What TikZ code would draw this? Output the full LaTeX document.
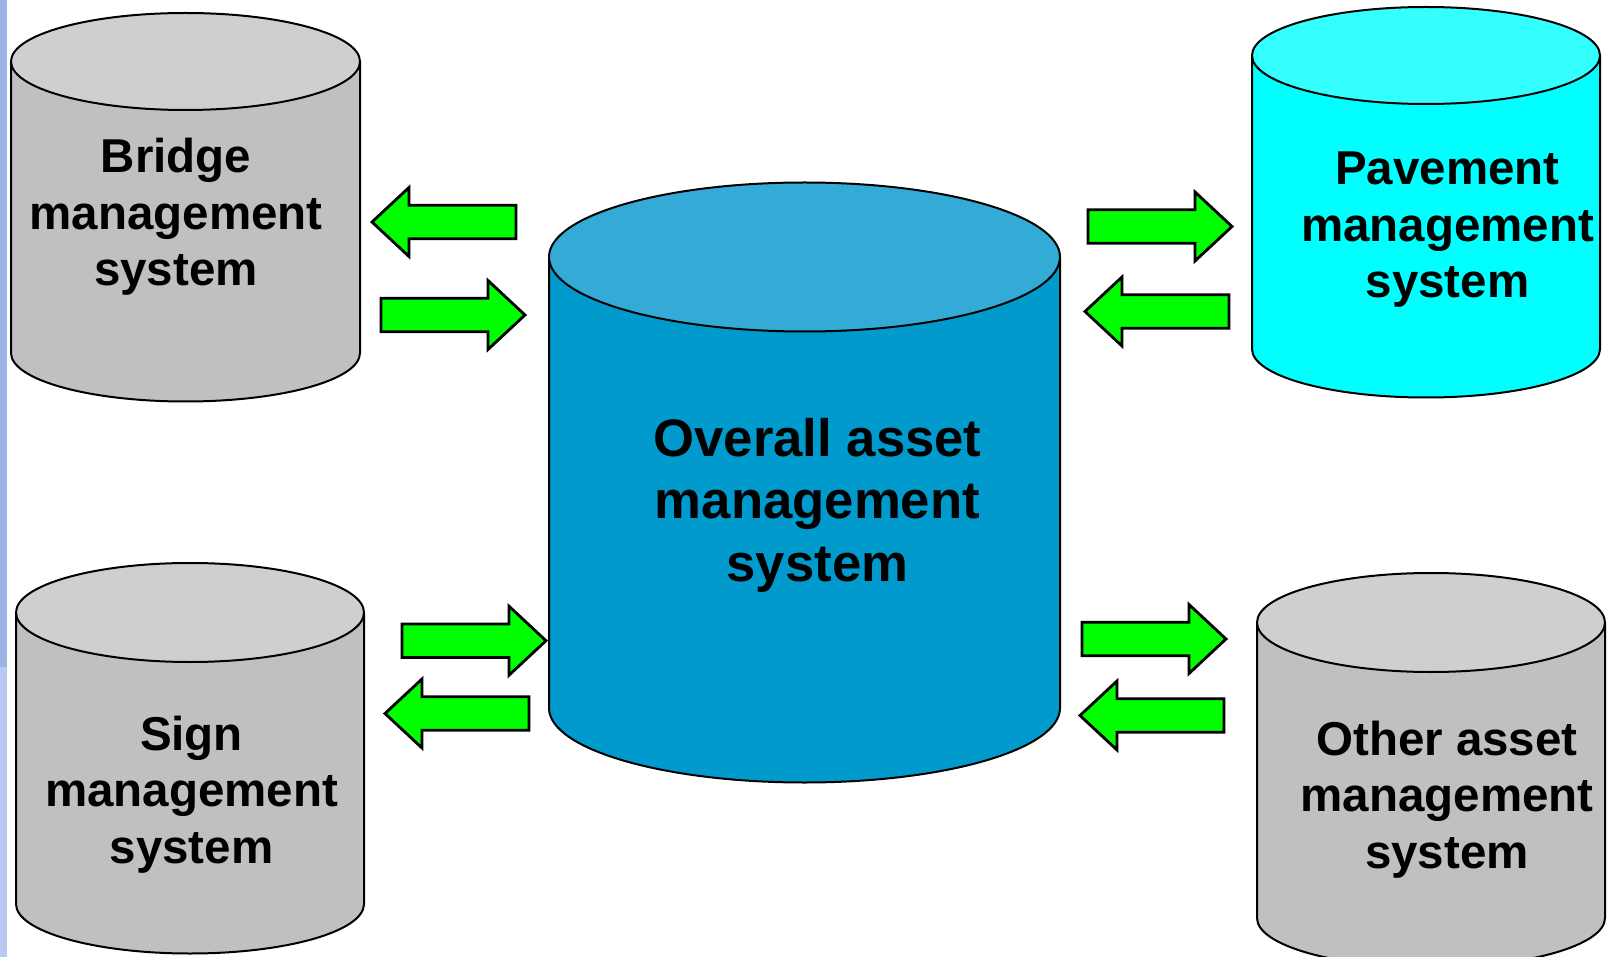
\documentclass[tikz,border=0pt]{standalone}
\usepackage{fontspec}
\setmainfont{Liberation Sans}
\definecolor{grayside}{HTML}{C0C0C0}
\definecolor{graytop}{HTML}{CFCFCF}
\definecolor{cyanside}{HTML}{00FFFF}
\definecolor{cyantop}{HTML}{33FFFF}
\definecolor{blueside}{HTML}{009ACD}
\definecolor{bluetop}{HTML}{33ABD6}
\definecolor{arrgreen}{HTML}{00FF00}
\definecolor{stripA}{HTML}{9FB4E6}
\definecolor{stripB}{HTML}{B9C8F0}
\newcommand\mycyl[7]{% cx, rx, ytop, ybottom, ry, side colour, top colour
  \fill[#6] (#1-#2,-#3) -- (#1-#2,-#4) arc[start angle=180,end angle=360,x radius=#2pt,y radius=#5pt] -- (#1+#2,-#3) -- cycle;
  \draw[cylline] (#1-#2,-#3) -- (#1-#2,-#4) arc[start angle=180,end angle=360,x radius=#2pt,y radius=#5pt] -- (#1+#2,-#3);
  \filldraw[cylline,fill=#7] (#1,-#3) ellipse[x radius=#2pt,y radius=#5pt];
}
\newcommand\rarr[1]{\draw[blockarrow] (#1) ++(0,16.7) -- ++(107,0) -- ++(0,17.8) -- ++(37,-34.5) -- ++(-37,-34.5) -- ++(0,17.8) -- ++(-107,0) -- cycle;}
\newcommand\larr[1]{\draw[blockarrow] (#1) ++(0,16.7) -- ++(-107,0) -- ++(0,17.8) -- ++(-37,-34.5) -- ++(37,-34.5) -- ++(0,17.8) -- ++(107,0) -- cycle;}
\begin{document}
\begin{tikzpicture}[x=1pt,y=1pt,
  cylline/.style={draw=black,line width=2pt},
  blockarrow/.style={draw=black,fill=arrgreen,line width=2.8pt,line join=miter},
  smalltext/.style={inner sep=0pt,align=center,anchor=base,font={\fontsize{47.5}{56.5}\selectfont\bfseries}},
  bigtext/.style={inner sep=0pt,align=center,anchor=base,font={\fontsize{52.7}{62.5}\selectfont\bfseries}}]
\useasboundingbox (0,0) rectangle (1612,-957);
\fill[white] (0,0) rectangle (1612,-957);
\fill[stripA] (0,0) rectangle (7,-667);
\fill[stripB] (0,-667) rectangle (7,-957);
\begin{scope}
\clip (0,0) rectangle (1612,-957);
% cylinders
\mycyl{185.5}{174.5}{61.5}{353}{48.5}{grayside}{graytop}
\mycyl{1426}{174}{55.5}{349}{48.5}{cyanside}{cyantop}
\mycyl{190}{174}{612.5}{904}{49.5}{grayside}{graytop}
\mycyl{1431}{174}{622.5}{918}{49.5}{grayside}{graytop}
\mycyl{804.5}{255.5}{257}{708}{74.5}{blueside}{bluetop}
\end{scope}
% texts (anchor base = baseline of the last line)
\node[smalltext] (bridge) at (176,-286) {Bridge\\management\\system};
\node[smalltext] (pavement) at (1447.5,-298) {Pavement\\management\\system};
\node[smalltext] (sign) at (191.5,-863) {Sign\\management\\system};
\node[smalltext] (other) at (1447,-868) {Other asset\\management\\system};
\node[bigtext] (overall) at (817.5,-581) {Overall asset\\management\\system};
% arrows
\coordinate (bl) at (516,-222);
\coordinate (br) at (381,-315);
\coordinate (pr) at (1088,-226.5);
\coordinate (pl) at (1229,-311.5);
\coordinate (sr) at (402,-640.7);
\coordinate (sl) at (529,-713.5);
\coordinate (or) at (1082,-639);
\coordinate (ol) at (1224,-715.5);
\larr{bl}
\rarr{br}
\rarr{pr}
\larr{pl}
\rarr{sr}
\larr{sl}
\rarr{or}
\larr{ol}
\end{tikzpicture}
\end{document}
